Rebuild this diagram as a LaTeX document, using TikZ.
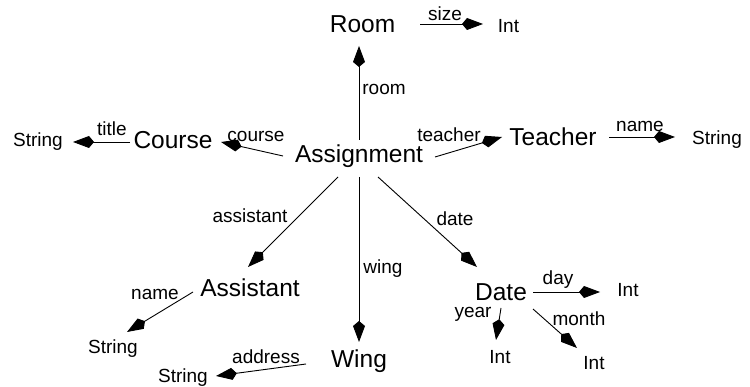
\documentclass[tikz,border=0pt]{standalone}
\usepackage{fontspec}
\setmainfont{Liberation Sans}
\usetikzlibrary{arrows.meta,calc}
\tikzset{
  big/.style={anchor=base,inner sep=0pt,font=\fontsize{24.5}{26}\selectfont},
  small/.style={anchor=base,inner sep=0pt,font=\fontsize{19}{21}\selectfont},
  lbl/.style={anchor=base,inner sep=0pt,font=\fontsize{19}{21}\selectfont},
  arr/.style={line width=0.9pt,-{Kite[length=21pt,width=12pt,inset=5pt]}}
}
\begin{document}
\begin{tikzpicture}[x=1pt,y=-1pt]
\useasboundingbox (0,0) rectangle (750,387);
% main nodes
\node[big] (Assignment) at (359,163) {Assignment};
\node[big] (Room) at (362.5,33) {Room};
\node[big] (Course) at (173,149) {Course};
\node[big] (Teacher) at (553,146) {Teacher};
\node[big] (Assistant) at (250,297) {Assistant};
\node[big] (Wing) at (359,368) {Wing};
\node[big] (Date) at (501,301) {Date};
% leaf nodes
\node[small] (IntR) at (508.5,33) {Int};
\node[small] (StrL) at (38,147) {String};
\node[small] (StrR) at (717,145) {String};
\node[small] (StrA) at (113,354) {String};
\node[small] (StrW) at (183,383) {String};
\node[small] (IntD) at (628,297) {Int};
\node[small] (IntY) at (500,363) {Int};
\node[small] (IntM) at (594,370) {Int};
% connectors
\draw[arr] ($(Assignment.base)+(0,-23)$) -- ($(Room.base)+(-3.5,13)$);
\draw[arr] ($(Room.base)+(57.5,-9)$) -- ($(IntR.base)+(-25.5,-9)$);
\draw[arr] ($(Assignment.base)+(-76,-7)$) -- ($(Course.base)+(48,-7)$);
\draw[arr] ($(Course.base)+(-43,-7)$) -- ($(StrL.base)+(35,-5)$);
\draw[arr] ($(Assignment.base)+(76,-6)$) -- ($(Teacher.base)+(-51,-9)$);
\draw[arr] ($(Teacher.base)+(56,-9)$) -- ($(StrR.base)+(-42,-8)$);
\draw[arr] ($(Assignment.base)+(-21,14)$) -- ($(Assistant.base)+(-2,-30)$);
\draw[arr] ($(Assignment.base)+(0,14)$) -- ($(Wing.base)+(0,-26)$);
\draw[arr] ($(Assignment.base)+(19,14)$) -- ($(Date.base)+(-24,-34)$);
\draw[arr] ($(Assistant.base)+(-57,-5)$) -- ($(StrA.base)+(14,-22)$);
\draw[arr] ($(Wing.base)+(-53,-4)$) -- ($(StrW.base)+(33,-7)$);
\draw[arr] ($(Date.base)+(32,-9)$) -- ($(IntD.base)+(-28,-5)$);
\draw[arr] ($(Date.base)+(0,7)$) -- ($(IntY.base)+(-4,-23)$);
\draw[arr] ($(Date.base)+(32,8)$) -- ($(IntM.base)+(-17,-22)$);
% labels
\node[lbl] (lsize) at (445,21) {size};
\node[lbl] (lroom) at (384,95) {room};
\node[lbl] (lcourse) at (256,142) {course};
\node[lbl] (ltitle) at (112,136) {title};
\node[lbl] (lteacher) at (449,142) {teacher};
\node[lbl] (lnameT) at (640,132) {name};
\node[lbl] (lassistant) at (250,223) {assistant};
\node[lbl] (lwing) at (383,274) {wing};
\node[lbl] (ldate) at (455,226) {date};
\node[lbl] (lnameA) at (155,300) {name};
\node[lbl] (laddress) at (266,363) {address};
\node[lbl] (lday) at (558,285) {day};
\node[lbl] (lyear) at (473,318) {year};
\node[lbl] (lmonth) at (579,326) {month};
\end{tikzpicture}
\end{document}
